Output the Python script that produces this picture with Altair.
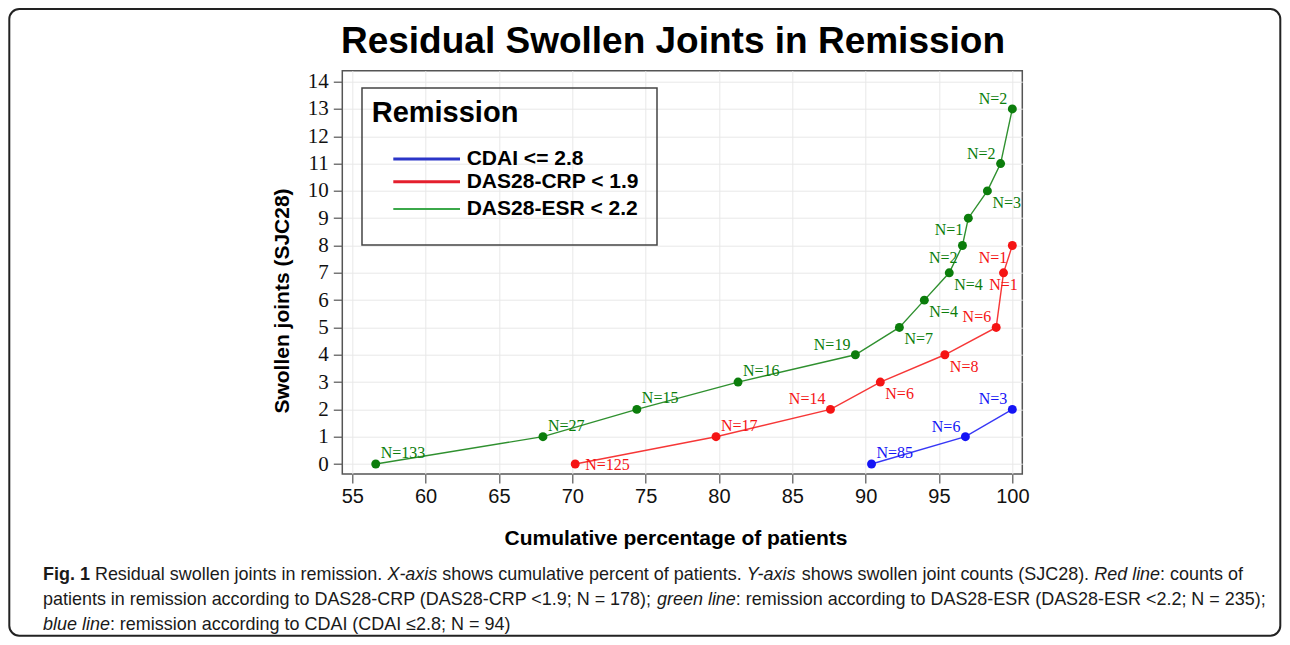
import altair as alt
import pandas as pd

# ---------------- data ----------------
series_names = ["CDAI <= 2.8", "DAS28-CRP < 1.9", "DAS28-ESR < 2.2"]
series_colors = ["#1414f5", "#f51414", "#0b7d0b"]
legend_colors = ["#2b35c8", "#e41f2d", "#3ba84a"]

cdai_pct = [90.4, 96.8, 100.0]
cdai_sjc = [0, 1, 2]
cdai_n = [85, 6, 3]
cdai_side = ["ne", "nw", "nw"]

crp_pct = [70.2, 79.8, 87.6, 91.0, 95.4, 98.9, 99.4, 100.0]
crp_sjc = [0, 1, 2, 3, 4, 5, 7, 8]
crp_n = [125, 17, 14, 6, 8, 6, 1, 1]
crp_side = ["e", "ne", "nw", "se", "se", "nw", "s", "sw"]

esr_pct = [56.6, 68.0, 74.4, 81.3, 89.3, 92.3, 94.0, 95.7, 96.6, 97.0, 98.3, 99.2, 100.0]
esr_sjc = [0, 1, 2, 3, 4, 5, 6, 7, 8, 9, 10, 11, 13]
esr_n = [133, 27, 15, 16, 19, 7, 4, 4, 2, 1, 3, 2, 2]
esr_side = ["ne", "ne", "ne", "ne", "nw", "se", "se", "se", "sw", "sw", "se", "nw", "nw"]

x_ticks = [55, 60, 65, 70, 75, 80, 85, 90, 95, 100]
y_ticks = list(range(0, 15))

title_text = "Residual Swollen Joints in Remission"
x_title = "Cumulative percentage of patients"
y_title = "Swollen joints (SJC28)"
legend_title = "Remission"

caption_lines = [
    [("Fig. 1", "bold"), (" Residual swollen joints in remission. ", "normal"), ("X-axis", "italic"),
     (" shows cumulative percent of patients. ", "normal"), ("Y-axis", "italic"),
     (" shows swollen joint counts (SJC28). ", "normal"), ("Red line", "italic"), (": counts of", "normal")],
    [("patients in remission according to DAS28-CRP (DAS28-CRP <1.9; N = 178); ", "normal"),
     ("green line", "italic"), (": remission according to DAS28-ESR (DAS28-ESR <2.2; N = 235);", "normal")],
    [("blue line", "italic"), (": remission according to CDAI (CDAI \u22642.8; N = 94)", "normal")],
]

# ---------------- table ----------------
rows = []
for name, xs, ys, ns, sides in [
    (series_names[0], cdai_pct, cdai_sjc, cdai_n, cdai_side),
    (series_names[1], crp_pct, crp_sjc, crp_n, crp_side),
    (series_names[2], esr_pct, esr_sjc, esr_n, esr_side),
]:
    for x, y, n, s in zip(xs, ys, ns, sides):
        rows.append({"series": name, "pct": x, "sjc": y, "label": f"N={n}", "side": s})
df = pd.DataFrame(rows)

# ---------------- layout ----------------
W, H = 680, 403.3
PAD = {"left": 334.3, "top": 62.7, "right": 259.7, "bottom": 163}

xs_ = alt.Scale(domain=[54.32, 100.68], nice=False, zero=False)
ys_ = alt.Scale(domain=[-0.366, 14.4], nice=False, zero=False)
cs = alt.Scale(domain=series_names, range=series_colors)

X = alt.X("pct:Q", scale=xs_, axis=alt.Axis(
    values=x_ticks, title=None, labelFont="Liberation Sans", labelFontSize=20, labelColor="#111",
    tickSize=9, tickColor="#555", tickWidth=1.2, labelPadding=3, domain=False,
    grid=True, gridColor="#e8e8e8", gridWidth=1, labelFlush=False, labelOverlap=False))
Y = alt.Y("sjc:Q", scale=ys_, axis=alt.Axis(
    values=y_ticks, title=None, labelFont="Liberation Serif", labelFontSize=21, labelColor="#111",
    tickSize=9, tickColor="#555", tickWidth=1.2, labelPadding=5, domain=False,
    grid=True, gridColor="#e8e8e8", gridWidth=1, labelFlush=False, labelOverlap=False))
C = alt.Color("series:N", scale=cs, legend=None)

base = alt.Chart(df)
lines = base.mark_line(strokeWidth=1.4, opacity=0.85).encode(x=X, y=Y, color=C, order="pct:Q")
points = base.mark_circle(size=80, opacity=1).encode(x=X, y=Y, color=C)

placements = {
    "ne": ("left", 5, -11), "nw": ("right", -5, -10), "se": ("left", 5, 12),
    "sw": ("right", -5, 12), "e": ("left", 10, 1), "s": ("center", 0, 12),
}
label_layers = []
for side, (al, dx, dy) in placements.items():
    label_layers.append(
        base.transform_filter(alt.datum.side == side)
        .mark_text(font="Liberation Serif", fontSize=16, align=al, baseline="middle", dx=dx, dy=dy)
        .encode(x=X, y=Y, text="label:N", color=C)
    )

one = pd.DataFrame({"k": [0]})


def txt(s, x, y, size, weight="normal", style="normal", font="Liberation Sans",
        align="left", baseline="alphabetic", angle=0, color="#000"):
    kw = dict(text=s, font=font, fontSize=size, fontWeight=weight, fontStyle=style,
              align=align, baseline=baseline, color=color)
    if angle:
        kw["angle"] = angle
    return alt.Chart(one).mark_text(**kw).encode(x=alt.value(x), y=alt.value(y))


texts = [
    txt(title_text, 330.7, -17.7, 37, weight="bold", align="center"),
    txt(x_title, 333.7, 474.3, 21, weight="bold", align="center"),
    txt(y_title, -59.3, 230.3, 21, weight="bold", align="center", baseline="middle", angle=270),
]

# legend box
legend = [
    alt.Chart(one).mark_rect(fillOpacity=0, stroke="#444", strokeWidth=1.5).encode(
        x=alt.value(19.7), x2=alt.value(314.7), y=alt.value(17.3), y2=alt.value(174.3)),
    txt(legend_title, 29.4, 51, 29, weight="bold"),
]
leg_y = [88.3, 111, 138.3]
leg_w = [3, 3, 2]
for name, col, yy, lw in zip(series_names, legend_colors, leg_y, leg_w):
    legend.append(alt.Chart(one).mark_rule(color=col, strokeWidth=lw).encode(
        x=alt.value(51), x2=alt.value(117.7), y=alt.value(yy)))
    legend.append(txt(name, 124.4, yy, 21, weight="bold", baseline="middle"))

# caption (Arial-metric layout of mixed-style segments)
ARIAL = {' ': 278, '(': 333, ')': 333, ',': 278, '-': 333, '.': 278, ':': 278, ';': 278, '<': 584,
         '=': 584, '\u2264': 549}
for c in "0123456789":
    ARIAL[c] = 556
ARIAL.update({'A': 667, 'B': 667, 'C': 722, 'D': 722, 'E': 667, 'F': 611, 'G': 778, 'H': 722, 'I': 278,
              'J': 500, 'K': 667, 'L': 556, 'M': 833, 'N': 722, 'O': 778, 'P': 667, 'R': 722, 'S': 667,
              'T': 611, 'U': 722, 'V': 667, 'W': 944, 'X': 667, 'Y': 667, 'Z': 611,
              'a': 556, 'b': 556, 'c': 500, 'd': 556, 'e': 556, 'f': 278, 'g': 556, 'h': 556, 'i': 222,
              'j': 222, 'k': 500, 'l': 222, 'm': 833, 'n': 556, 'o': 556, 'p': 556, 'q': 556, 'r': 333,
              's': 500, 't': 278, 'u': 556, 'v': 500, 'w': 722, 'x': 500, 'y': 500, 'z': 500})
ARIAL_B = dict(ARIAL)
ARIAL_B.update({'i': 278, 'g': 611, 'F': 611})


def units(s, bold=False):
    t = ARIAL_B if bold else ARIAL
    return sum(t.get(c, 556) for c in s)


line1_units = sum(units(s, st == "bold") for s, st in caption_lines[0])
cap_fs = 1200 * 1000 / line1_units
cap_x0 = -299.3
cap_base = [509.3, 534.3, 559.3]
caption = []
for segs, by in zip(caption_lines, cap_base):
    cur = cap_x0
    for s, st in segs:
        k = cap_fs / 1000
        lead = len(s) - len(s.lstrip())
        xdraw = cur + lead * ARIAL[' '] * k
        caption.append(txt(s.strip(), xdraw, by, cap_fs,
                           weight="bold" if st == "bold" else "normal",
                           style="italic" if st == "italic" else "normal", color="#1a1a1a"))
        cur += units(s, st == "bold") * k

border = alt.Chart(one).mark_rect(fillOpacity=0, stroke="#222", strokeWidth=2, cornerRadius=10).encode(
    x=alt.value(-333.0), x2=alt.value(938.0), y=alt.value(-61.7), y2=alt.value(565.0))

chart = alt.layer(
    lines, points, *label_layers, *legend, *texts, *caption, border
).properties(
    width=W, height=H, padding=PAD, autosize=alt.AutoSizeParams(type="none")
).configure_view(stroke="#555", strokeWidth=1.5)

chart.save("out.html", embed_options={"renderer": "svg", "actions": False})
